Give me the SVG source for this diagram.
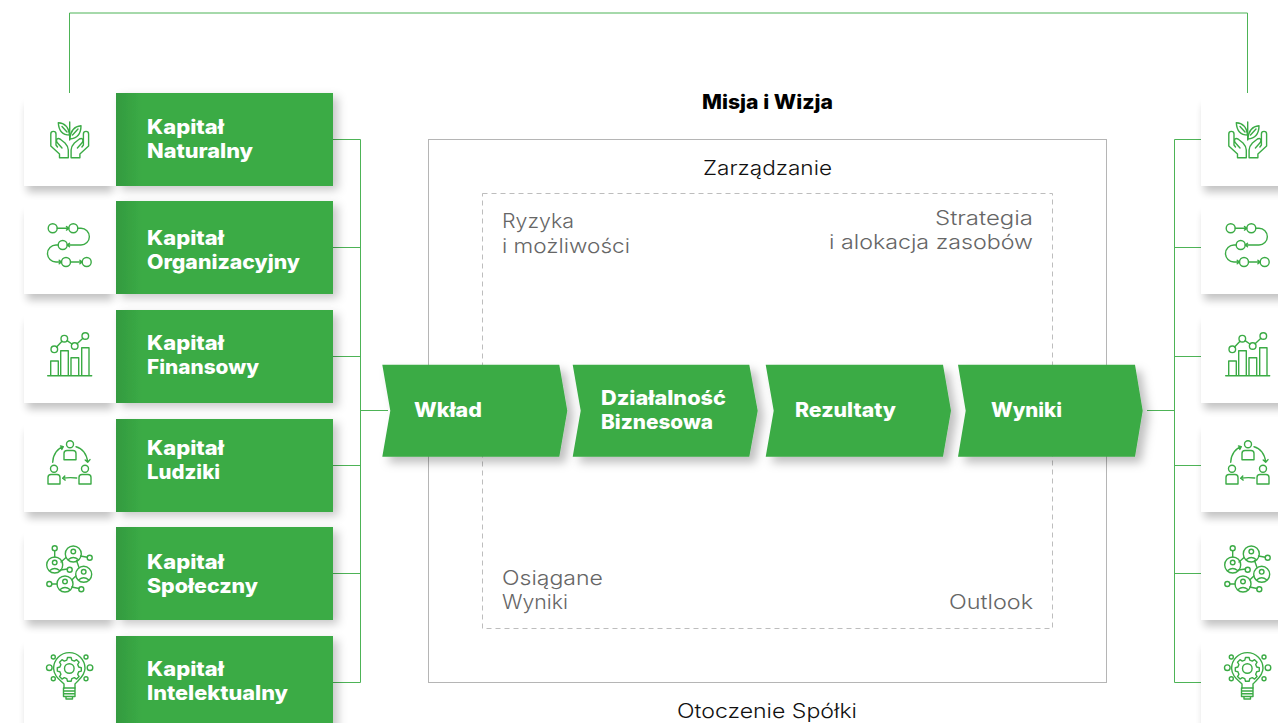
<svg xmlns="http://www.w3.org/2000/svg" width="1278" height="723" viewBox="0 0 1278 723">
<style>
text{font-family:"Inter","Open Sans","Liberation Sans",sans-serif}
.t{font-size:20px;font-weight:800;fill:#fff}
.g{font-size:20px;font-weight:300;fill:#666}
.d{font-size:20px;font-weight:300;fill:#111}
.w{fill:#fff;filter:url(#ws)}
.c{fill:url(#gr);filter:url(#gs)}
.ch{fill:#3bab45;filter:url(#cs)}
.i{fill:none;stroke:#3bab45;stroke-width:1.4;stroke-linecap:round;stroke-linejoin:round}
.l{fill:none;stroke:#4db356;stroke-width:1}
</style>
<defs>
<linearGradient id="gr" x1="0" x2="1" y1="0" y2="0"><stop offset="0" stop-color="#339a40"/><stop offset=".12" stop-color="#3bab45"/><stop offset="1" stop-color="#3bab45"/></linearGradient>
<filter id="ws" x="-20%" y="-20%" width="140%" height="150%"><feMorphology in="SourceAlpha" operator="erode" radius="3"/><feOffset dy="9"/><feGaussianBlur stdDeviation="4"/><feComponentTransfer result="s"><feFuncA type="linear" slope=".24"/></feComponentTransfer><feMerge><feMergeNode in="s"/><feMergeNode in="SourceGraphic"/></feMerge></filter>
<filter id="gs" x="-10%" y="-20%" width="125%" height="150%"><feDropShadow dx="5" dy="4" stdDeviation="5" flood-color="#000" flood-opacity=".22"/></filter>
<filter id="cs" x="-10%" y="-20%" width="125%" height="150%"><feDropShadow dx="6" dy="6" stdDeviation="5" flood-color="#000" flood-opacity=".25"/></filter>
<path id="hand" d="M57.500,147L56,145V134a2.600,2.600 0 0 0 -5.200,0V146L59.500,154V157.700H68.300V150Q68.300,146.500 65,143L60,139Q57,137.500 56.500,140.500Q56.500,142 58,143.500L62,148"/>
<g id="ic1" class="i">
<path d="M69.700,122V140"/>
<path d="M58.300,122.700Q68,123 69.700,135Q59,135 58.300,122.700ZM62,126.500L67,132"/>
<path d="M81,125.700Q71,126.500 69.700,139Q81,138 81,125.700ZM78,129L72.500,135"/>
<use href="#hand"/>
<use href="#hand" transform="translate(139.400,0) scale(-1,1)"/>
</g>
<g id="ic2" class="i">
<circle cx="52.700" cy="228.300" r="4.500"/><circle cx="73.300" cy="228.300" r="4.500"/><circle cx="62.700" cy="245" r="4.500"/><circle cx="66" cy="262" r="4.500"/><circle cx="86.700" cy="262" r="4.500"/>
<path d="M57.200,228.300H68.800M66.500,226.500l2.300,1.800l-2.300,1.800M77.800,228.300H81a8.300,8.300 0 0 1 0,16.700H67.200M69.500,243.200l-2.300,1.800l2.300,1.800M58.200,245H56a8.500,8.500 0 0 0 0,17H61.500M59.200,260.200l2.300,1.800l-2.300,1.800M70.500,262H82.200M79.900,260.200l2.300,1.800l-2.300,1.800"/>
</g>
<g id="ic3" class="i">
<path d="M47.700,375.700H91.700M50.700,375.700V361H58.300V375.700M60.700,375.700V350.700H68.300V375.700M71,375.700V357.700H78.700V375.700M81.700,375.700V347.700H89V375.700"/>
<circle cx="54.300" cy="349.300" r="3.300"/><circle cx="64.300" cy="338.700" r="3.300"/><circle cx="74.700" cy="346" r="3.300"/><circle cx="85.300" cy="336" r="3.300"/>
<path d="M56.600,346.900L62,341.200M67.100,340.600L71.900,344M77.100,343.700L82.900,338.300"/>
</g>
<g id="ic4" class="i">
<circle cx="70" cy="444.300" r="3.500"/><path d="M64,459.700V453.500a3,3 0 0 1 3,-3H73a3,3 0 0 1 3,3V459.700Z"/>
<circle cx="54" cy="468.700" r="3.500"/><path d="M48,484V477.500a3,3 0 0 1 3,-3H57a3,3 0 0 1 3,3V484Z"/>
<circle cx="85" cy="468.700" r="3.500"/><path d="M79,484V477.500a3,3 0 0 1 3,-3H88a3,3 0 0 1 3,3V484Z"/>
<path d="M52.700,462.300C53,454,58,448,63.300,446.700M60.500,446l2.800,.7l-1.500,2.800M76,446.700C82,448,87,454,87.700,462.300M85.200,460l2.500,2.300l2.300,-2.700M76.700,478C72,477.500,67,477.500,62.700,478.300M64.800,476l-2.100,2.300l2.500,1.800"/>
</g>
<g id="ic5" class="i">
<circle cx="54.700" cy="565" r="8"/><circle cx="73.300" cy="554" r="8"/><circle cx="83.700" cy="574.300" r="8"/><circle cx="65" cy="584" r="8"/>
<circle cx="54.700" cy="548.300" r="2.500"/><circle cx="89.700" cy="557.700" r="2.500"/><circle cx="69.700" cy="569.700" r="2.500"/><circle cx="49.300" cy="584" r="2.500"/><circle cx="81.300" cy="589.300" r="2.500"/>
<circle cx="54.700" cy="562.500" r="2.300"/><circle cx="73.300" cy="551.500" r="2.300"/><circle cx="83.700" cy="571.800" r="2.300"/><circle cx="65" cy="581.500" r="2.300"/>
<path d="M49.800,570.500q4.900,-4,9.800,0M68.400,559.500q4.900,-4,9.800,0M78.800,579.800q4.900,-4,9.800,0M60.100,589.500q4.900,-4,9.800,0"/>
<path d="M54.700,550.800V557M80.500,556L87.300,557.200M61,562L66,557.500M60.500,570L67.500,569M79,567.500L76.500,560.500M51.800,584H57M71.700,587L79,588.500M75.800,576L72,579.800"/>
</g>
<g id="ic6" class="i">
<path d="M64,688V684C60,680,53.600,676,53.600,668.300A15.700,15.700 0 0 1 85,668.300C85,676,78.500,680,75,684V688"/>
<path d="M67.500,657.500h3.600l.7,2.600l2.500,1l2.300,-1.400l2.500,2.500l-1.400,2.300l1,2.500l2.600,.7v3.400l-2.600,.7l-1,2.500l1.400,2.300l-2.500,2.500l-2.300,-1.400l-2.500,1l-.7,2.600h-3.600l-.7,-2.600l-2.500,-1l-2.300,1.400l-2.500,-2.500l1.400,-2.300l-1,-2.500l-2.600,-.7v-3.400l2.600,-.7l1,-2.500l-1.400,-2.300l2.500,-2.500l2.300,1.400l2.500,-1Z"/>
<circle cx="69.300" cy="668.500" r="4.800"/>
<circle cx="53.300" cy="657" r="2"/><circle cx="86" cy="657" r="2"/><circle cx="49.300" cy="667.700" r="2.800"/><circle cx="90" cy="667.700" r="2.800"/><circle cx="53.300" cy="678.700" r="2"/><circle cx="86" cy="678.700" r="2"/>
<path d="M63.500,688H75V696.500H63.500ZM63.500,691H75M63.500,693.800H75M66,696.500V699H72.500V696.500"/>
</g>
</defs>

<g id="connectors">
<path class="l" d="M69.500,93V13H1247.500V93"/>
<path class="l" d="M333,139.500H360.500V682.500H333M333,247.500H360.500M333,356.500H360.500M333,465.500H360.500M333,573.500H360.500M360.500,410.500H388"/>
<path class="l" d="M1201,139.500H1174.500V682.500H1201M1201,247.500H1174.500M1201,356.500H1174.500M1201,465.500H1174.500M1201,573.500H1174.500M1174.500,410.500H1147"/>
</g>

<g id="frames">
<rect x="428.500" y="139.500" width="678" height="543" fill="none" stroke="#b5b5b5"/>
<rect x="482.500" y="193.500" width="570" height="435" fill="none" stroke="#bdbdbd" stroke-dasharray="5 4"/>
</g>

<g id="labels" lengthAdjust="spacingAndGlyphs">
<text x="702" y="109" lengthAdjust="spacingAndGlyphs" textLength="131" font-size="20" font-weight="800" fill="#000">Misja i Wizja</text>
<text class="d" x="703" y="175" lengthAdjust="spacingAndGlyphs" textLength="129">Zarządzanie</text>
<text class="d" x="677" y="718" lengthAdjust="spacingAndGlyphs" textLength="180">Otoczenie Spółki</text>
<text class="g" x="502" y="228" lengthAdjust="spacingAndGlyphs" textLength="72">Ryzyka</text>
<text class="g" x="502" y="253" lengthAdjust="spacingAndGlyphs" textLength="128">i możliwości</text>
<text class="g" x="935" y="225" lengthAdjust="spacingAndGlyphs" textLength="98">Strategia</text>
<text class="g" x="829" y="249" lengthAdjust="spacingAndGlyphs" textLength="204">i alokacja zasobów</text>
<text class="g" x="502" y="585" lengthAdjust="spacingAndGlyphs" textLength="101">Osiągane</text>
<text class="g" x="502" y="609" lengthAdjust="spacingAndGlyphs" textLength="66">Wyniki</text>
<text class="g" x="949" y="609" lengthAdjust="spacingAndGlyphs" textLength="84">Outlook</text>
</g>

<g id="left-1"><rect class="w" x="24" y="93" width="92" height="93"/><use href="#ic1"/><rect class="c" x="116" y="93" width="217" height="93"/><text class="t" x="147" y="134" lengthAdjust="spacingAndGlyphs" textLength="77">Kapitał</text><text class="t" x="147" y="158" lengthAdjust="spacingAndGlyphs" textLength="106">Naturalny</text></g>
<g id="left-2"><rect class="w" x="24" y="201" width="92" height="93"/><use href="#ic2"/><rect class="c" x="116" y="201" width="217" height="93"/><text class="t" x="147" y="245" lengthAdjust="spacingAndGlyphs" textLength="77">Kapitał</text><text class="t" x="147" y="269" lengthAdjust="spacingAndGlyphs" textLength="153">Organizacyjny</text></g>
<g id="left-3"><rect class="w" x="24" y="310" width="92" height="93"/><use href="#ic3"/><rect class="c" x="116" y="310" width="217" height="93"/><text class="t" x="147" y="350" lengthAdjust="spacingAndGlyphs" textLength="77">Kapitał</text><text class="t" x="147" y="374" lengthAdjust="spacingAndGlyphs" textLength="112">Finansowy</text></g>
<g id="left-4"><rect class="w" x="24" y="419" width="92" height="93"/><use href="#ic4"/><rect class="c" x="116" y="419" width="217" height="93"/><text class="t" x="147" y="455" lengthAdjust="spacingAndGlyphs" textLength="77">Kapitał</text><text class="t" x="147" y="479" lengthAdjust="spacingAndGlyphs" textLength="73">Ludziki</text></g>
<g id="left-5"><rect class="w" x="24" y="527" width="92" height="93"/><use href="#ic5"/><rect class="c" x="116" y="527" width="217" height="93"/><text class="t" x="147" y="569" lengthAdjust="spacingAndGlyphs" textLength="77">Kapitał</text><text class="t" x="147" y="593" lengthAdjust="spacingAndGlyphs" textLength="111">Społeczny</text></g>
<g id="left-6"><rect class="w" x="24" y="636" width="92" height="93"/><use href="#ic6"/><rect class="c" x="116" y="636" width="217" height="93"/><text class="t" x="147" y="676" lengthAdjust="spacingAndGlyphs" textLength="77">Kapitał</text><text class="t" x="147" y="700" lengthAdjust="spacingAndGlyphs" textLength="141">Intelektualny</text></g>

<g id="right-1"><rect class="w" x="1201" y="93" width="90" height="93"/><use href="#ic1" x="1178"/></g>
<g id="right-2"><rect class="w" x="1201" y="201" width="90" height="93"/><use href="#ic2" x="1178"/></g>
<g id="right-3"><rect class="w" x="1201" y="310" width="90" height="93"/><use href="#ic3" x="1178"/></g>
<g id="right-4"><rect class="w" x="1201" y="419" width="90" height="93"/><use href="#ic4" x="1178"/></g>
<g id="right-5"><rect class="w" x="1201" y="527" width="90" height="93"/><use href="#ic5" x="1178"/></g>
<g id="right-6"><rect class="w" x="1201" y="636" width="90" height="93"/><use href="#ic6" x="1178"/></g>

<g id="wklad"><polygon class="ch" points="382.300,364.700 559.300,364.700 567.300,410.700 559.300,456.700 382.300,456.700 390.300,410.700"/><text class="t" x="414" y="417" lengthAdjust="spacingAndGlyphs" textLength="68">Wkład</text></g>
<g id="dzialalnosc"><polygon class="ch" points="572.700,364.700 749.300,364.700 757.700,410.700 749.300,456.700 572.700,456.700 580.700,410.700"/><text class="t" x="601" y="405" lengthAdjust="spacingAndGlyphs" textLength="125">Działalność</text><text class="t" x="601" y="429" lengthAdjust="spacingAndGlyphs" textLength="112">Biznesowa</text></g>
<g id="rezultaty"><polygon class="ch" points="765.700,364.700 943,364.700 951,410.700 943,456.700 765.700,456.700 773.700,410.700"/><text class="t" x="795" y="417" lengthAdjust="spacingAndGlyphs" textLength="101">Rezultaty</text></g>
<g id="wyniki"><polygon class="ch" points="958,364.700 1135,364.700 1142.700,410.700 1135,456.700 958,456.700 965.700,410.700"/><text class="t" x="991" y="417" lengthAdjust="spacingAndGlyphs" textLength="71">Wyniki</text></g>
</svg>
